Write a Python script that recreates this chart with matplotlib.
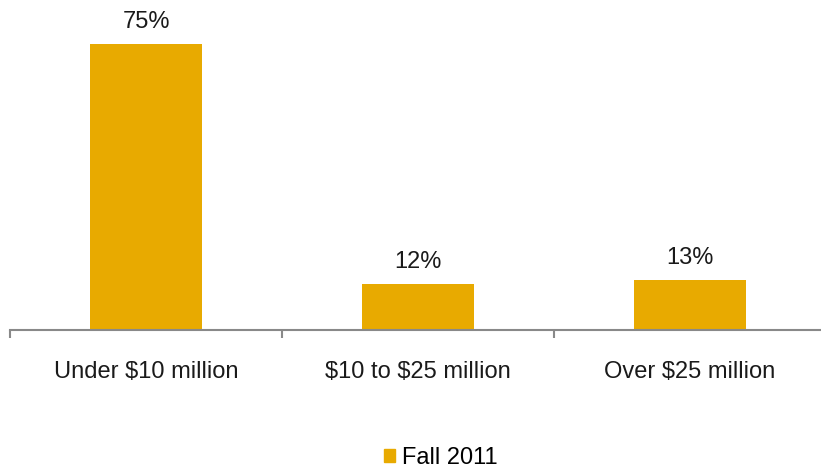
import matplotlib.pyplot as plt
from matplotlib.patches import Patch

categories = ['Under \\$10 million', '\\$10 to \\$25 million', 'Over \\$25 million']
values = [75, 12, 13]
value_labels = ['75%', '12%', '13%']
series_name = 'Fall 2011'

plt.rcParams['font.family'] = ['Liberation Sans', 'DejaVu Sans']
bar_color = '#E8AA00'

fig = plt.figure(figsize=(8.21, 4.68), dpi=100)
ax = fig.add_axes([10 / 821, 138 / 468, 816 / 821, 330 / 468])

x = range(len(categories))
bars = ax.bar(x, values, width=0.415, color=bar_color, zorder=2)
for b, lab in zip(bars, value_labels):
    ax.annotate(lab, (b.get_x() + b.get_width() / 2, b.get_height()),
                xytext=(0, 8), textcoords='offset points', ha='center', va='bottom',
                fontsize=17, color='#1a1a1a')

ax.set_xlim(-0.5, 2.5)
ax.set_ylim(0, 86.6)
ax.set_yticks([])
for s in ['top', 'right', 'left']:
    ax.spines[s].set_visible(False)
ax.spines['bottom'].set_color('#898989')
ax.spines['bottom'].set_linewidth(1.5)

ax.set_xticks(list(x))
ax.set_xticklabels(categories, fontsize=17, color='#1a1a1a')
ax.tick_params(axis='x', which='major', length=0, pad=22)
ax.set_xticks([-0.5, 0.5, 1.5, 2.5], minor=True)
ax.tick_params(axis='x', which='minor', length=6, width=1.5, color='#898989')

fig.legend(handles=[Patch(color=bar_color, label=series_name)], loc='lower center',
           bbox_to_anchor=(0.537, -0.047), frameon=False, fontsize=17,
           handlelength=0.45, handleheight=0.45, handletextpad=0.3)

fig.savefig('out.png', dpi=100)
